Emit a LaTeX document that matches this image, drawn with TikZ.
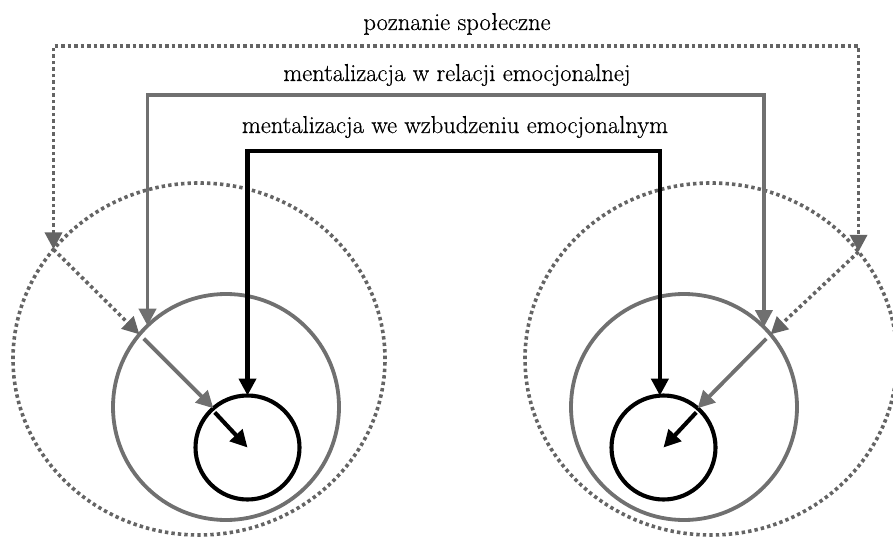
\documentclass[tikz,border=0pt]{standalone}
\usepackage{fontspec}
\newfontfamily\lblfont{Latin Modern Roman}[FakeBold=0.5]
\usetikzlibrary{arrows.meta,shapes.geometric}
\definecolor{lgray}{RGB}{112,112,112}
\definecolor{dgray}{RGB}{100,100,100}
\begin{document}
\begin{tikzpicture}[x=1pt,y=-1pt,
  dotline/.style={draw=dgray, line width=3.6pt, dash pattern=on 3.4pt off 3.1pt},
  grayline/.style={draw=lgray, line width=3.8pt},
  blackline/.style={draw=black, line width=4.1pt},
  tipend/.style={-{Triangle[length=17pt,width=17pt]}},
  tipboth/.style={{Triangle[length=17pt,width=17pt]}-{Triangle[length=17pt,width=17pt]}},
  outerring/.style={ellipse, dotline, minimum width=372pt, minimum height=352pt, inner sep=0pt, outer sep=0pt},
  midring/.style={circle, grayline, minimum size=226pt, inner sep=0pt, outer sep=0pt},
  innerring/.style={circle, blackline, minimum size=104pt, inner sep=0pt, outer sep=0pt},
  lbl/.style={anchor=base, inner sep=0pt, font=\lblfont\fontsize{24.5}{28}\selectfont}
]
\useasboundingbox (0,0) rectangle (893,540);

% rings
\node[outerring] (dl) at (199,359) {};
\node[outerring] (dr) at (711,359) {};
\node[midring] (gl) at (226,407) {};
\node[midring] (gr) at (684,407) {};
\node[innerring] (bl) at (247.5,447.5) {};
\node[innerring] (br) at (663.5,447.5) {};

% labels
\node[lbl] (t1) at (457,30) {poznanie społeczne};
\node[lbl] (t2) at (457,81) {mentalizacja w relacji emocjonalnej};
\node[lbl] (t3) at (455,133) {mentalizacja we wzbudzeniu emocjonalnym};

% top corner coordinates
\coordinate (topdot) at (455,46);
\coordinate (topgray) at (455,95);
\coordinate (topblack) at (455,151);

% bracket connectors
\draw[dotline, tipboth] (dl.143.7) |- (topdot) -| (dr.36.3);
\draw[grayline, tipboth] (gl.134.4) |- (topgray) -| (gr.45.6);
\draw[blackline, tipboth] (bl.north) |- (topblack) -| (br.94);

% left diagonal chain
\draw[dotline, tipend] (dl.143.7) -- (gl.140);
\draw[grayline, tipend, shorten <=6pt] (gl.140) -- (bl.131);
\draw[blackline, tipend, shorten <=4pt] (bl.133) -- (bl.center);

% right diagonal chain
\draw[dotline, tipend] (dr.36.3) -- (gr.40);
\draw[grayline, tipend, shorten <=6pt] (gr.40) -- (br.49);
\draw[blackline, tipend, shorten <=4pt] (br.47) -- (br.center);
\end{tikzpicture}
\end{document}
